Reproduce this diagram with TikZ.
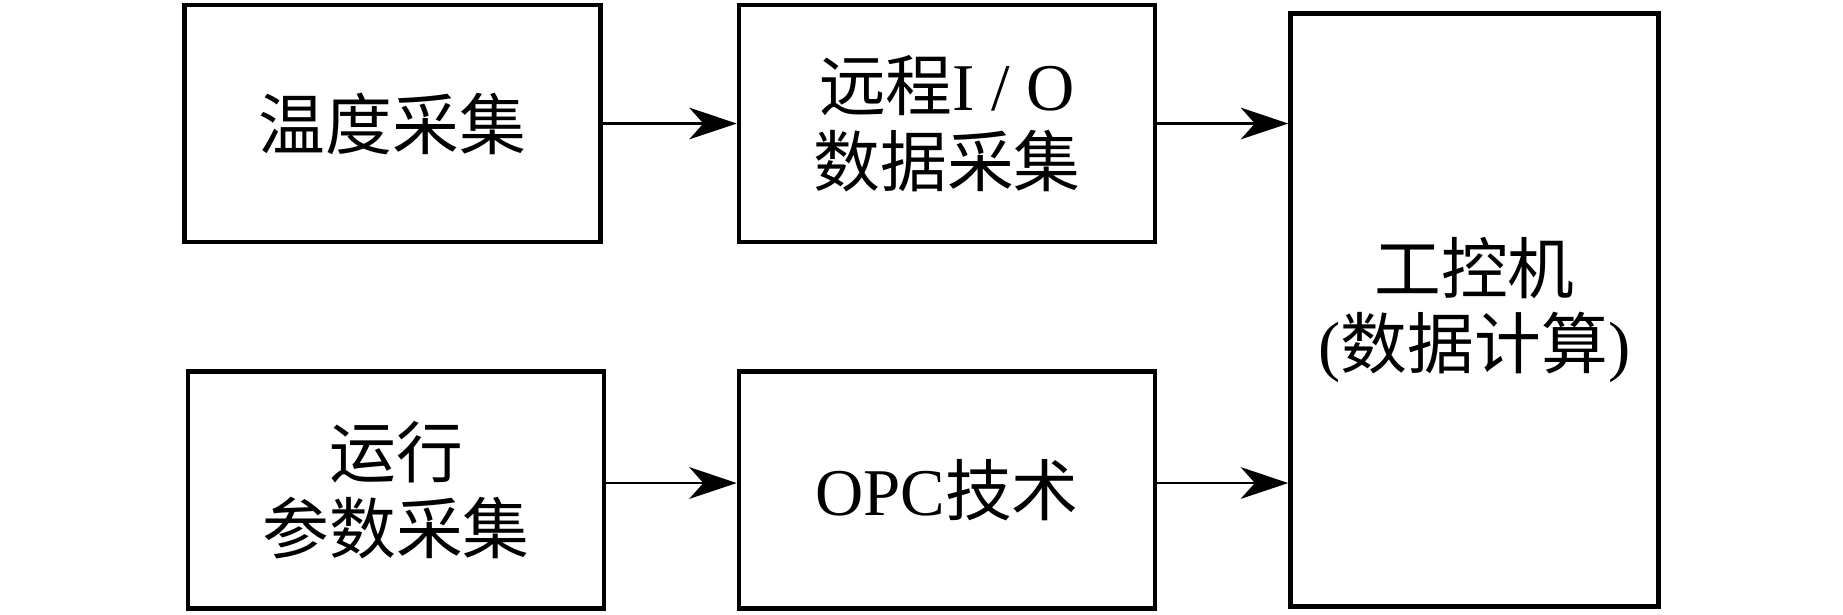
\documentclass[tikz,border=0pt]{standalone}
\usepackage{fontspec}
\setmainfont{Liberation Serif}
\newfontfamily\cjk{Noto Sans CJK SC}
\usetikzlibrary{arrows.meta,positioning}
\tikzset{
  >={Stealth[length=13.5pt,width=9pt,inset=4pt]},
}

\begin{document}
\begin{tikzpicture}[box/.style={draw, line width=1.3pt, align=center, inner sep=0pt,
                                minimum width=4.16cm, minimum height=2.37cm,
                                font=\fontsize{19pt}{21.5pt}\selectfont},
                    link/.style={->, line width=0.8pt}]
      \useasboundingbox (0,0) rectangle (18.43,-6.14);
      \node [box] (temp) at (3.925,-1.235) {\cjk 温度采集};
      \node [box] (rio) at (9.47,-1.235) {{\cjk 远程}I / O\\{\cjk 数据采集}};
      \node [box] (run) at (3.96,-4.90) {{\cjk 运行}\\{\cjk 参数采集}};
      \node [box] (opc) at (9.47,-4.90) {OPC{\cjk 技术}};
      \node [box, minimum width=3.68cm, minimum height=5.925cm] (ipc)
            at (14.745,-3.10) {{\cjk 工控机}\\({\cjk 数据计算})};
      \draw [link] (temp.east) -- (rio.west);
      \draw [link] (rio.east) -- (rio.east -| ipc.west);
      \draw [link] ([yshift=0.7mm]run.east) -- ([yshift=0.7mm]opc.west);
      \draw [link] ([yshift=0.7mm]opc.east) -- ([yshift=0.7mm]opc.east -| ipc.west);
\end{tikzpicture}
\end{document}
